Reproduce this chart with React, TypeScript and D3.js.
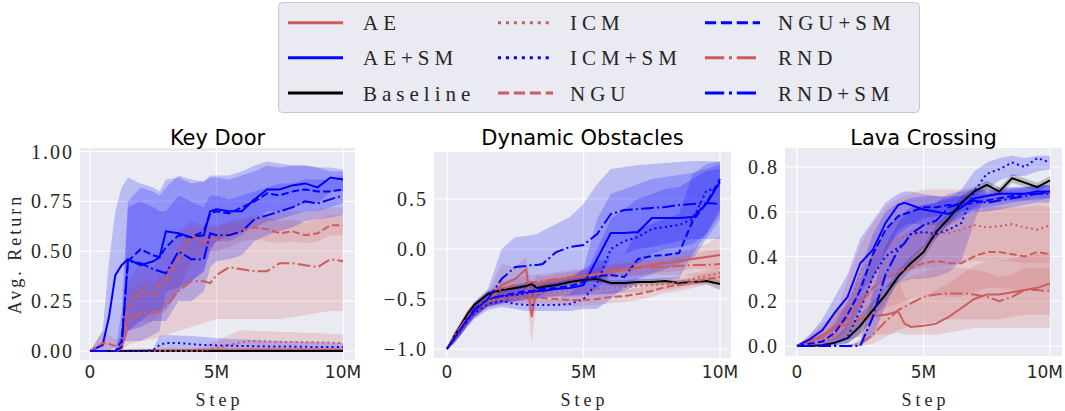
import React from "react";
import * as d3 from "d3";

// series in legend order
const seriesNames = ["AE", "AE+SM", "Baseline", "ICM", "ICM+SM", "NGU", "NGU+SM", "RND", "RND+SM"];

// ---------- Key Door ----------
const kdSteps = [0, 0.5, 0.75, 1, 1.25, 1.5, 2, 2.5, 2.75, 3, 3.5, 4, 4.5, 4.75, 5, 5.5, 6, 6.5, 7, 7.5, 8, 8.5, 9, 9.5, 10];
const kdAe = [0, 0, 0, 0, 0, 0.002, 0.003, 0.003, 0.003, 0.004, 0.004, 0.004, 0.005, 0.005, 0.005, 0.005, 0.005, 0.006, 0.006, 0.006, 0.006, 0.006, 0.006, 0.006, 0.006];
const kdAeLo = [0, 0, 0, 0, 0, 0, 0, 0, 0, 0, 0, 0, 0, 0, 0, 0, 0, 0, 0, 0, 0, 0, 0, 0, 0];
const kdAeHi = [0, 0, 0, 0, 0, 0.01, 0.012, 0.012, 0.012, 0.014, 0.014, 0.014, 0.015, 0.015, 0.015, 0.015, 0.015, 0.016, 0.016, 0.016, 0.016, 0.016, 0.016, 0.016, 0.016];
const kdAeSm = [0, 0.03, 0.17, 0.38, 0.43, 0.46, 0.43, 0.45, 0.47, 0.6, 0.59, 0.57, 0.58, 0.7, 0.71, 0.7, 0.7, 0.76, 0.81, 0.81, 0.83, 0.84, 0.82, 0.87, 0.86];
const kdAeSmLo = [0, 0, 0, 0.02, 0.05, 0.05, 0.05, 0.08, 0.1, 0.3, 0.32, 0.35, 0.4, 0.52, 0.55, 0.55, 0.58, 0.65, 0.7, 0.7, 0.72, 0.74, 0.74, 0.8, 0.8];
const kdAeSmHi = [0, 0.1, 0.45, 0.7, 0.82, 0.87, 0.84, 0.82, 0.8, 0.86, 0.87, 0.84, 0.85, 0.87, 0.87, 0.86, 0.88, 0.9, 0.93, 0.92, 0.93, 0.93, 0.92, 0.92, 0.91];
const kdBase = [0, 0, 0, 0, 0, 0, 0, 0, 0, 0, 0, 0, 0, 0, 0, 0, 0, 0, 0, 0, 0, 0, 0, 0, 0];
const kdBaseLo = [0, 0, 0, 0, 0, 0, 0, 0, 0, 0, 0, 0, 0, 0, 0, 0, 0, 0, 0, 0, 0, 0, 0, 0, 0];
const kdBaseHi = [0, 0, 0, 0, 0, 0, 0, 0, 0, 0, 0, 0, 0, 0, 0, 0, 0, 0, 0, 0, 0, 0, 0, 0, 0];
const kdIcm = [0, 0, 0, 0, 0, 0, 0, 0, 0, 0, 0, 0, 0.002, 0.01, 0.015, 0.03, 0.045, 0.05, 0.048, 0.046, 0.045, 0.044, 0.043, 0.042, 0.04];
const kdIcmLo = [0, 0, 0, 0, 0, 0, 0, 0, 0, 0, 0, 0, 0, 0, 0, 0, 0.01, 0.01, 0.01, 0.01, 0.01, 0.01, 0.01, 0.01, 0.01];
const kdIcmHi = [0, 0, 0, 0, 0, 0, 0, 0, 0, 0, 0, 0.01, 0.02, 0.04, 0.05, 0.08, 0.105, 0.1, 0.1, 0.095, 0.095, 0.09, 0.09, 0.085, 0.085];
const kdIcmSm = [0, 0, 0, 0, 0, 0, 0, 0.005, 0.03, 0.04, 0.04, 0.035, 0.03, 0.03, 0.028, 0.027, 0.025, 0.024, 0.023, 0.022, 0.022, 0.021, 0.02, 0.02, 0.02];
const kdIcmSmLo = [0, 0, 0, 0, 0, 0, 0, 0, 0, 0, 0, 0, 0, 0, 0, 0, 0, 0, 0, 0, 0, 0, 0, 0, 0];
const kdIcmSmHi = [0, 0, 0, 0, 0, 0, 0, 0.01, 0.075, 0.08, 0.078, 0.075, 0.07, 0.068, 0.065, 0.06, 0.058, 0.055, 0.052, 0.05, 0.048, 0.046, 0.044, 0.042, 0.04];
const kdNgu = [0, 0.04, 0.035, 0.025, 0.02, 0.22, 0.3, 0.28, 0.33, 0.35, 0.47, 0.58, 0.55, 0.56, 0.56, 0.59, 0.6, 0.62, 0.61, 0.59, 0.6, 0.58, 0.59, 0.63, 0.63];
const kdNguLo = [0, 0, 0, 0, 0, 0.1, 0.15, 0.15, 0.18, 0.2, 0.3, 0.45, 0.48, 0.5, 0.5, 0.52, 0.55, 0.56, 0.55, 0.54, 0.55, 0.54, 0.55, 0.58, 0.58];
const kdNguHi = [0, 0.1, 0.08, 0.06, 0.06, 0.35, 0.45, 0.42, 0.48, 0.5, 0.6, 0.65, 0.63, 0.63, 0.63, 0.65, 0.66, 0.68, 0.67, 0.65, 0.66, 0.64, 0.66, 0.68, 0.68];
const kdNguSm = [0, 0, 0, 0, 0.05, 0.45, 0.51, 0.48, 0.47, 0.52, 0.58, 0.57, 0.6, 0.69, 0.7, 0.69, 0.72, 0.75, 0.79, 0.78, 0.8, 0.81, 0.8, 0.8, 0.81];
const kdNguSmLo = [0, 0, 0, 0, 0, 0.1, 0.15, 0.2, 0.2, 0.22, 0.3, 0.35, 0.4, 0.5, 0.55, 0.58, 0.6, 0.62, 0.65, 0.66, 0.68, 0.7, 0.7, 0.72, 0.74];
const kdNguSmHi = [0, 0, 0, 0, 0.2, 0.75, 0.82, 0.8, 0.78, 0.82, 0.88, 0.86, 0.85, 0.88, 0.88, 0.88, 0.9, 0.93, 0.95, 0.94, 0.93, 0.93, 0.92, 0.9, 0.9];
const kdRnd = [0, 0, 0, 0, 0.01, 0.15, 0.19, 0.19, 0.2, 0.22, 0.3, 0.35, 0.35, 0.34, 0.38, 0.42, 0.41, 0.4, 0.4, 0.44, 0.44, 0.43, 0.42, 0.46, 0.45];
const kdRndLo = [0, 0, 0, 0, 0, 0.03, 0.05, 0.06, 0.07, 0.08, 0.1, 0.12, 0.14, 0.15, 0.16, 0.16, 0.16, 0.16, 0.16, 0.16, 0.17, 0.18, 0.19, 0.2, 0.2];
const kdRndHi = [0, 0, 0, 0, 0.03, 0.3, 0.35, 0.35, 0.38, 0.4, 0.52, 0.6, 0.62, 0.62, 0.62, 0.64, 0.65, 0.67, 0.68, 0.7, 0.7, 0.7, 0.71, 0.72, 0.72];
const kdRndSm = [0, 0, 0, 0, 0.02, 0.45, 0.44, 0.41, 0.4, 0.39, 0.5, 0.46, 0.46, 0.59, 0.58, 0.58, 0.6, 0.66, 0.68, 0.7, 0.72, 0.75, 0.74, 0.76, 0.78];
const kdRndSmLo = [0, 0, 0, 0, 0, 0.1, 0.12, 0.15, 0.15, 0.15, 0.25, 0.25, 0.3, 0.42, 0.45, 0.46, 0.48, 0.55, 0.58, 0.6, 0.62, 0.65, 0.66, 0.67, 0.68];
const kdRndSmHi = [0, 0, 0, 0, 0.1, 0.72, 0.75, 0.72, 0.7, 0.7, 0.78, 0.75, 0.72, 0.78, 0.78, 0.76, 0.78, 0.8, 0.82, 0.84, 0.84, 0.86, 0.86, 0.86, 0.88];
const kdTicks = [0, 0.25, 0.5, 0.75, 1];

// ---------- Dynamic Obstacles ----------
const doSteps = [0, 0.25, 0.5, 0.75, 1, 1.5, 2, 2.5, 2.9, 3.1, 3.3, 3.5, 4, 4.5, 5, 5.5, 6, 6.5, 7, 7.5, 8, 8.5, 9, 9.5, 10];
const doAe = [-1, -0.88, -0.78, -0.68, -0.6, -0.5, -0.36, -0.3, -0.2, -0.68, -0.36, -0.34, -0.31, -0.29, -0.27, -0.25, -0.22, -0.2, -0.18, -0.16, -0.14, -0.12, -0.1, -0.08, -0.06];
const doAeLo = [-1, -0.92, -0.83, -0.74, -0.66, -0.56, -0.45, -0.4, -0.35, -0.95, -0.45, -0.4, -0.37, -0.35, -0.33, -0.31, -0.29, -0.27, -0.26, -0.24, -0.23, -0.22, -0.2, -0.2, -0.2];
const doAeHi = [-1, -0.84, -0.73, -0.62, -0.54, -0.44, -0.15, -0.18, -0.08, -0.4, -0.25, -0.28, -0.25, -0.23, -0.21, -0.19, -0.16, -0.14, -0.11, -0.09, -0.06, -0.03, 0, 0.05, 0.13];
const doAeSm = [-1, -0.9, -0.8, -0.7, -0.62, -0.5, -0.47, -0.46, -0.44, -0.43, -0.42, -0.42, -0.4, -0.39, -0.36, -0.1, 0.16, 0.16, 0.17, 0.31, 0.31, 0.31, 0.32, 0.45, 0.67];
const doAeSmLo = [-1, -0.94, -0.86, -0.77, -0.69, -0.57, -0.54, -0.53, -0.51, -0.5, -0.5, -0.49, -0.48, -0.47, -0.46, -0.4, -0.25, -0.2, -0.15, -0.05, 0, 0.02, 0.05, 0.15, 0.35];
const doAeSmHi = [-1, -0.86, -0.74, -0.63, -0.55, -0.43, -0.4, -0.39, -0.37, -0.36, -0.35, -0.34, -0.33, -0.3, -0.2, 0.3, 0.55, 0.6, 0.65, 0.7, 0.72, 0.74, 0.76, 0.8, 0.85];
const doBase = [-1, -0.88, -0.77, -0.65, -0.56, -0.45, -0.41, -0.39, -0.37, -0.35, -0.39, -0.38, -0.36, -0.33, -0.31, -0.3, -0.34, -0.34, -0.33, -0.33, -0.32, -0.34, -0.33, -0.32, -0.35];
const doBaseLo = [-1, -0.9, -0.8, -0.68, -0.59, -0.48, -0.44, -0.42, -0.4, -0.38, -0.42, -0.41, -0.39, -0.36, -0.34, -0.33, -0.37, -0.37, -0.36, -0.36, -0.35, -0.37, -0.36, -0.35, -0.41];
const doBaseHi = [-1, -0.86, -0.74, -0.62, -0.53, -0.42, -0.38, -0.36, -0.34, -0.32, -0.36, -0.35, -0.33, -0.3, -0.28, -0.27, -0.31, -0.31, -0.3, -0.3, -0.29, -0.31, -0.3, -0.29, -0.31];
const doIcm = [-1, -0.9, -0.8, -0.7, -0.62, -0.52, -0.48, -0.46, -0.45, -0.45, -0.44, -0.44, -0.43, -0.42, -0.41, -0.4, -0.39, -0.38, -0.37, -0.36, -0.35, -0.33, -0.3, -0.27, -0.24];
const doIcmLo = [-1, -0.95, -0.86, -0.76, -0.68, -0.58, -0.54, -0.52, -0.51, -0.51, -0.5, -0.5, -0.49, -0.48, -0.47, -0.46, -0.45, -0.44, -0.43, -0.42, -0.41, -0.39, -0.36, -0.33, -0.3];
const doIcmHi = [-1, -0.85, -0.74, -0.64, -0.56, -0.46, -0.42, -0.4, -0.39, -0.39, -0.38, -0.38, -0.37, -0.36, -0.35, -0.34, -0.33, -0.32, -0.31, -0.3, -0.29, -0.27, -0.24, -0.21, -0.18];
const doIcmSm = [-1, -0.9, -0.8, -0.72, -0.64, -0.55, -0.52, -0.55, -0.56, -0.56, -0.56, -0.56, -0.56, -0.55, -0.5, -0.34, 0, 0.08, 0.12, 0.2, 0.22, 0.24, 0.3, 0.58, 0.62];
const doIcmSmLo = [-1, -0.94, -0.86, -0.78, -0.7, -0.61, -0.58, -0.6, -0.62, -0.62, -0.62, -0.62, -0.62, -0.62, -0.6, -0.6, -0.5, -0.38, -0.3, -0.25, -0.2, -0.15, -0.1, 0.1, 0.3];
const doIcmSmHi = [-1, -0.86, -0.74, -0.66, -0.58, -0.49, -0.46, -0.49, -0.5, -0.5, -0.5, -0.5, -0.5, -0.45, -0.3, 0, 0.3, 0.4, 0.5, 0.55, 0.6, 0.62, 0.7, 0.78, 0.8];
const doNgu = [-1, -0.9, -0.8, -0.7, -0.62, -0.52, -0.5, -0.49, -0.49, -0.49, -0.49, -0.49, -0.5, -0.51, -0.51, -0.5, -0.48, -0.47, -0.45, -0.42, -0.38, -0.36, -0.33, -0.3, -0.28];
const doNguLo = [-1, -0.96, -0.86, -0.76, -0.68, -0.58, -0.56, -0.55, -0.55, -0.55, -0.55, -0.55, -0.56, -0.57, -0.57, -0.56, -0.54, -0.53, -0.51, -0.48, -0.44, -0.42, -0.39, -0.36, -0.34];
const doNguHi = [-1, -0.84, -0.74, -0.64, -0.56, -0.46, -0.44, -0.43, -0.43, -0.43, -0.43, -0.43, -0.44, -0.45, -0.45, -0.44, -0.42, -0.41, -0.39, -0.36, -0.32, -0.3, -0.27, -0.24, -0.22];
const doNguSm = [-1, -0.9, -0.8, -0.7, -0.62, -0.5, -0.47, -0.44, -0.42, -0.42, -0.41, -0.4, -0.39, -0.37, -0.33, -0.27, -0.26, -0.28, -0.1, -0.07, -0.06, -0.04, 0.28, 0.46, 0.7];
const doNguSmLo = [-1, -0.94, -0.86, -0.76, -0.68, -0.57, -0.54, -0.52, -0.5, -0.5, -0.49, -0.48, -0.47, -0.46, -0.45, -0.45, -0.45, -0.42, -0.35, -0.32, -0.3, -0.3, -0.05, 0.15, 0.4];
const doNguSmHi = [-1, -0.86, -0.74, -0.64, -0.56, -0.43, -0.4, -0.36, -0.34, -0.34, -0.33, -0.32, -0.31, -0.28, -0.2, -0.12, -0.1, -0.05, 0.2, 0.25, 0.3, 0.35, 0.75, 0.85, 0.88];
const doRnd = [-1, -0.88, -0.78, -0.68, -0.6, -0.5, -0.4, -0.36, -0.34, -0.33, -0.33, -0.32, -0.3, -0.28, -0.27, -0.25, -0.23, -0.21, -0.19, -0.18, -0.18, -0.17, -0.16, -0.16, -0.15];
const doRndLo = [-1, -0.93, -0.84, -0.75, -0.67, -0.58, -0.48, -0.43, -0.41, -0.4, -0.4, -0.39, -0.37, -0.35, -0.34, -0.32, -0.3, -0.28, -0.27, -0.26, -0.26, -0.26, -0.27, -0.3, -0.35];
const doRndHi = [-1, -0.83, -0.72, -0.61, -0.53, -0.42, -0.32, -0.29, -0.27, -0.26, -0.26, -0.25, -0.23, -0.21, -0.2, -0.18, -0.16, -0.14, -0.12, -0.11, -0.1, -0.08, -0.05, -0.02, 0];
const doRndSm = [-1, -0.9, -0.8, -0.7, -0.6, -0.5, -0.3, -0.18, -0.17, -0.16, -0.16, -0.15, -0.03, 0.02, 0.04, 0.15, 0.35, 0.39, 0.4, 0.41, 0.42, 0.44, 0.45, 0.46, 0.45];
const doRndSmLo = [-1, -0.94, -0.86, -0.76, -0.67, -0.58, -0.55, -0.5, -0.5, -0.5, -0.5, -0.45, -0.4, -0.35, -0.3, -0.3, -0.1, -0.05, 0, 0.02, 0.05, 0.08, 0.1, 0.1, 0.1];
const doRndSmHi = [-1, -0.86, -0.74, -0.64, -0.53, -0.4, 0, 0.12, 0.13, 0.14, 0.15, 0.18, 0.25, 0.32, 0.45, 0.65, 0.8, 0.82, 0.84, 0.85, 0.86, 0.87, 0.88, 0.88, 0.87];
const doTicks = [-1, -0.5, 0, 0.5];

// ---------- Lava Crossing ----------
const lcSteps = [0, 0.5, 1, 1.5, 2, 2.5, 3, 3.5, 4, 4.25, 4.5, 5, 5.5, 6, 6.5, 7, 7.5, 8, 8.5, 9, 9.5, 10];
const lcAe = [0, 0.02, 0.05, 0.08, 0.1, 0.12, 0.135, 0.14, 0.155, 0.1, 0.085, 0.09, 0.1, 0.13, 0.17, 0.21, 0.23, 0.23, 0.24, 0.25, 0.26, 0.28];
const lcAeLo = [0, 0, 0.01, 0.02, 0.03, 0.04, 0.05, 0.05, 0.06, 0.05, 0.05, 0.05, 0.05, 0.06, 0.07, 0.08, 0.08, 0.08, 0.08, 0.08, 0.08, 0.08];
const lcAeHi = [0, 0.05, 0.1, 0.15, 0.18, 0.22, 0.25, 0.27, 0.3, 0.22, 0.2, 0.22, 0.25, 0.28, 0.32, 0.36, 0.38, 0.38, 0.39, 0.4, 0.41, 0.42];
const lcAeSm = [0, 0.03, 0.07, 0.15, 0.22, 0.37, 0.43, 0.55, 0.63, 0.64, 0.63, 0.61, 0.6, 0.59, 0.62, 0.66, 0.67, 0.68, 0.68, 0.68, 0.69, 0.69];
const lcAeSmLo = [0, 0.01, 0.03, 0.08, 0.13, 0.24, 0.3, 0.42, 0.52, 0.54, 0.55, 0.54, 0.54, 0.54, 0.57, 0.62, 0.64, 0.65, 0.65, 0.65, 0.66, 0.66];
const lcAeSmHi = [0, 0.05, 0.12, 0.22, 0.32, 0.48, 0.56, 0.64, 0.68, 0.69, 0.69, 0.68, 0.67, 0.66, 0.67, 0.7, 0.7, 0.71, 0.71, 0.71, 0.72, 0.72];
const lcBase = [0, 0, 0.003, 0.015, 0.035, 0.09, 0.16, 0.23, 0.31, 0.34, 0.37, 0.42, 0.51, 0.57, 0.64, 0.69, 0.72, 0.69, 0.75, 0.73, 0.71, 0.74];
const lcBaseLo = [0, 0, 0, 0.005, 0.015, 0.05, 0.12, 0.2, 0.28, 0.31, 0.34, 0.39, 0.48, 0.54, 0.61, 0.67, 0.7, 0.67, 0.73, 0.71, 0.69, 0.72];
const lcBaseHi = [0, 0, 0.01, 0.04, 0.08, 0.14, 0.2, 0.26, 0.34, 0.37, 0.4, 0.45, 0.54, 0.6, 0.67, 0.71, 0.74, 0.71, 0.77, 0.75, 0.73, 0.76];
const lcIcm = [0, 0, 0.01, 0.05, 0.15, 0.33, 0.4, 0.46, 0.48, 0.49, 0.5, 0.505, 0.5, 0.505, 0.52, 0.54, 0.53, 0.535, 0.545, 0.53, 0.52, 0.54];
const lcIcmLo = [0, 0, 0, 0.01, 0.05, 0.18, 0.25, 0.3, 0.32, 0.33, 0.34, 0.35, 0.35, 0.36, 0.37, 0.38, 0.38, 0.38, 0.38, 0.37, 0.37, 0.37];
const lcIcmHi = [0, 0, 0.03, 0.12, 0.3, 0.45, 0.55, 0.62, 0.66, 0.67, 0.68, 0.7, 0.7, 0.7, 0.7, 0.71, 0.7, 0.7, 0.7, 0.7, 0.69, 0.7];
const lcIcmSm = [0, 0, 0.005, 0.01, 0.04, 0.16, 0.31, 0.4, 0.44, 0.46, 0.5, 0.51, 0.5, 0.52, 0.55, 0.69, 0.77, 0.79, 0.82, 0.8, 0.84, 0.82];
const lcIcmSmLo = [0, 0, 0, 0, 0.01, 0.06, 0.18, 0.26, 0.28, 0.29, 0.3, 0.3, 0.31, 0.33, 0.38, 0.55, 0.7, 0.74, 0.76, 0.76, 0.78, 0.79];
const lcIcmSmHi = [0, 0, 0.01, 0.03, 0.1, 0.28, 0.42, 0.52, 0.58, 0.6, 0.62, 0.63, 0.64, 0.66, 0.7, 0.78, 0.82, 0.84, 0.85, 0.84, 0.85, 0.85];
const lcNgu = [0, 0.015, 0.04, 0.08, 0.12, 0.19, 0.26, 0.3, 0.33, 0.345, 0.35, 0.37, 0.38, 0.37, 0.37, 0.4, 0.42, 0.42, 0.41, 0.4, 0.42, 0.41];
const lcNguLo = [0, 0, 0.01, 0.03, 0.05, 0.09, 0.14, 0.17, 0.19, 0.2, 0.21, 0.22, 0.23, 0.22, 0.22, 0.24, 0.26, 0.26, 0.25, 0.25, 0.26, 0.25];
const lcNguHi = [0, 0.04, 0.08, 0.14, 0.2, 0.3, 0.38, 0.44, 0.48, 0.5, 0.52, 0.54, 0.56, 0.56, 0.57, 0.6, 0.62, 0.62, 0.62, 0.62, 0.63, 0.62];
const lcNguSm = [0, 0.01, 0.02, 0.06, 0.14, 0.25, 0.41, 0.52, 0.58, 0.59, 0.6, 0.62, 0.62, 0.63, 0.63, 0.64, 0.65, 0.66, 0.67, 0.68, 0.68, 0.69];
const lcNguSmLo = [0, 0, 0.01, 0.03, 0.08, 0.16, 0.3, 0.42, 0.5, 0.52, 0.54, 0.57, 0.58, 0.59, 0.6, 0.61, 0.62, 0.63, 0.64, 0.65, 0.65, 0.66];
const lcNguSmHi = [0, 0.03, 0.05, 0.1, 0.2, 0.34, 0.5, 0.6, 0.64, 0.65, 0.66, 0.67, 0.67, 0.67, 0.67, 0.68, 0.68, 0.69, 0.7, 0.71, 0.71, 0.72];
const lcRnd = [0, 0, 0, 0, 0, 0.01, 0.05, 0.11, 0.16, 0.175, 0.19, 0.22, 0.23, 0.235, 0.235, 0.23, 0.22, 0.2, 0.22, 0.25, 0.25, 0.245];
const lcRndLo = [0, 0, 0, 0, 0, 0, 0.01, 0.04, 0.07, 0.08, 0.09, 0.1, 0.11, 0.12, 0.12, 0.12, 0.12, 0.12, 0.13, 0.14, 0.14, 0.14];
const lcRndHi = [0, 0, 0, 0, 0, 0.03, 0.12, 0.2, 0.28, 0.3, 0.31, 0.33, 0.35, 0.35, 0.35, 0.34, 0.33, 0.31, 0.32, 0.35, 0.35, 0.35];
const lcRndSm = [0, 0, 0, 0, 0, 0, 0.13, 0.32, 0.43, 0.46, 0.5, 0.54, 0.56, 0.62, 0.64, 0.65, 0.64, 0.65, 0.66, 0.67, 0.68, 0.68];
const lcRndSmLo = [0, 0, 0, 0, 0, 0, 0.04, 0.18, 0.3, 0.34, 0.38, 0.44, 0.48, 0.55, 0.58, 0.6, 0.6, 0.61, 0.62, 0.63, 0.64, 0.64];
const lcRndSmHi = [0, 0, 0, 0, 0, 0.02, 0.24, 0.45, 0.55, 0.58, 0.6, 0.63, 0.64, 0.68, 0.69, 0.7, 0.69, 0.7, 0.71, 0.71, 0.72, 0.72];
const lcTicks = [0, 0.2, 0.4, 0.6, 0.8];

const xTicks = [0, 5, 10];

const RED = "#cd5c5c";
const BLUE = "#0000ff";
const colors = [RED, BLUE, "#000000", RED, BLUE, RED, BLUE, RED, BLUE];
const styles = ["solid", "solid", "solid", "dot", "dot", "dash", "dash", "dashdot", "dashdot"];

const dashFor = (s: string, lw: number) => {
  if (s === "dot") return `${lw},${1.65 * lw}`;
  if (s === "dash") return `${3.7 * lw},${1.6 * lw}`;
  if (s === "dashdot") return `${6.4 * lw},${1.6 * lw},${lw},${1.6 * lw}`;
  return undefined;
};

const panels = [
  {
    title: "Key Door",
    steps: kdSteps,
    means: [kdAe, kdAeSm, kdBase, kdIcm, kdIcmSm, kdNgu, kdNguSm, kdRnd, kdRndSm],
    los: [kdAeLo, kdAeSmLo, kdBaseLo, kdIcmLo, kdIcmSmLo, kdNguLo, kdNguSmLo, kdRndLo, kdRndSmLo],
    his: [kdAeHi, kdAeSmHi, kdBaseHi, kdIcmHi, kdIcmSmHi, kdNguHi, kdNguSmHi, kdRndHi, kdRndSmHi],
    ticks: kdTicks,
    fmt: d3.format(".2f"),
    box: { l: 80, r: 355, t: 148, b: 360 },
    xRange: [90, 343],
    yDomain: [0, 1],
    yRange: [351, 151.5],
  },
  {
    title: "Dynamic Obstacles",
    steps: doSteps,
    means: [doAe, doAeSm, doBase, doIcm, doIcmSm, doNgu, doNguSm, doRnd, doRndSm],
    los: [doAeLo, doAeSmLo, doBaseLo, doIcmLo, doIcmSmLo, doNguLo, doNguSmLo, doRndLo, doRndSmLo],
    his: [doAeHi, doAeSmHi, doBaseHi, doIcmHi, doIcmSmHi, doNguHi, doNguSmHi, doRndHi, doRndSmHi],
    ticks: doTicks,
    fmt: d3.format(".1f"),
    box: { l: 434, r: 731, t: 152, b: 358 },
    xRange: [447, 720],
    yDomain: [-1, 0.5],
    yRange: [349, 199],
  },
  {
    title: "Lava Crossing",
    steps: lcSteps,
    means: [lcAe, lcAeSm, lcBase, lcIcm, lcIcmSm, lcNgu, lcNguSm, lcRnd, lcRndSm],
    los: [lcAeLo, lcAeSmLo, lcBaseLo, lcIcmLo, lcIcmSmLo, lcNguLo, lcNguSmLo, lcRndLo, lcRndSmLo],
    his: [lcAeHi, lcAeSmHi, lcBaseHi, lcIcmHi, lcIcmSmHi, lcNguHi, lcNguSmHi, lcRndHi, lcRndSmHi],
    ticks: lcTicks,
    fmt: d3.format(".1f"),
    box: { l: 785, r: 1062, t: 148, b: 356 },
    xRange: [797, 1050],
    yDomain: [0, 0.8],
    yRange: [346, 167],
  },
];

const SERIF = "'Liberation Serif', 'Times New Roman', serif";
const SANS = "'DejaVu Sans', sans-serif";
const W = 1065;

const Panel = ({ p, idx }: { p: (typeof panels)[number]; idx: number }) => {
  const x = d3.scaleLinear().domain([0, 10]).range(p.xRange);
  const y = d3.scaleLinear().domain(p.yDomain).range(p.yRange);
  const { l, r, t, b } = p.box;
  const cx = (l + r) / 2;
  const clipId = `clip-${idx}`;

  return (
    <g>
      <defs>
        <clipPath id={clipId}>
          <rect x={l} y={t} width={r - l} height={b - t} />
        </clipPath>
      </defs>
      <rect x={l} y={t} width={r - l} height={b - t} fill="#eaeaf2" />
      {p.ticks.map((v) => (
        <line key={"gy" + v} x1={l} x2={r} y1={y(v)} y2={y(v)} stroke="#fff" strokeWidth={1.2} />
      ))}
      {xTicks.map((v) => (
        <line key={"gx" + v} x1={x(v)} x2={x(v)} y1={t} y2={b} stroke="#fff" strokeWidth={1.2} />
      ))}
      <g clipPath={`url(#${clipId})`}>
        {p.means.map((_, i) => {
          const lo = p.los[i];
          const hi = p.his[i];
          const area = d3
            .area<number>()
            .x((d) => x(d))
            .y0((_d, j) => y(lo[j]))
            .y1((_d, j) => y(hi[j]));
          return <path key={"band" + i} d={area(p.steps) || ""} fill={colors[i]} fillOpacity={0.2} stroke="none" />;
        })}
        {p.means.map((m, i) => {
          const line = d3
            .line<number>()
            .x((d) => x(d))
            .y((_d, j) => y(m[j]));
          return (
            <path
              key={"line" + i}
              d={line(p.steps) || ""}
              fill="none"
              stroke={colors[i]}
              strokeWidth={2}
              strokeDasharray={dashFor(styles[i], 2)}
            />
          );
        })}
      </g>
      {p.ticks.map((v) => (
        <text
          key={"ty" + v}
          x={l - 6}
          y={y(v) + 7}
          textAnchor="end"
          fontFamily={SERIF}
          fontSize={20}
          letterSpacing="2px"
          fill="#262626"
        >
          {p.fmt(v)}
        </text>
      ))}
      {xTicks.map((v) => {
        // keep the last label of the right-most panel inside the picture
        const overflow = x(v) + 19 > W;
        return (
          <text
            key={"tx" + v}
            x={overflow ? W - 2 : x(v)}
            y={378}
            textAnchor={overflow ? "end" : "middle"}
            fontFamily={SANS}
            fontSize={17}
            fill="#262626"
          >
            {v === 0 ? "0" : `${v}M`}
          </text>
        );
      })}
      <text x={cx} y={145} textAnchor="middle" fontFamily={SANS} fontSize={21} fill="#000">
        {p.title}
      </text>
      <text x={cx + 2} y={406} textAnchor="middle" fontFamily={SERIF} fontSize={18} letterSpacing="4px" fill="#262626">
        Step
      </text>
    </g>
  );
};

const Legend = () => {
  const colX = [288, 498, 705];
  const textX = [363, 570, 778];
  const rowY = [22.7, 57.7, 93];
  return (
    <g>
      <rect x={278.5} y={2.5} width={641} height={110} rx={4} fill="#eaeaf2" stroke="#c8c8c8" strokeWidth={1} />
      {seriesNames.map((name, i) => {
        const c = Math.floor(i / 3);
        const rr = i % 3;
        return (
          <g key={name}>
            <line
              x1={colX[c]}
              x2={colX[c] + 55}
              y1={rowY[rr]}
              y2={rowY[rr]}
              stroke={colors[i]}
              strokeWidth={3}
              strokeDasharray={dashFor(styles[i], 3)}
            />
            <text x={textX[c]} y={rowY[rr] + 7.5} fontFamily={SERIF} fontSize={21} letterSpacing="5px" fill="#262626">
              {name}
            </text>
          </g>
        );
      })}
    </g>
  );
};

export default function App() {
  return (
    <svg
      width={W}
      height={411}
      viewBox={`0 0 ${W} 411`}
      style={{ position: "absolute", left: 0, top: 0, background: "#fff" }}
    >
      <rect x={0} y={0} width={W} height={411} fill="#fff" />
      <Legend />
      {panels.map((p, i) => (
        <Panel key={p.title} p={p} idx={i} />
      ))}
      <text
        transform="translate(21,254) rotate(-90)"
        textAnchor="middle"
        fontFamily={SERIF}
        fontSize={18}
        letterSpacing="3px"
        fill="#262626"
      >
        Avg. Return
      </text>
    </svg>
  );
}
